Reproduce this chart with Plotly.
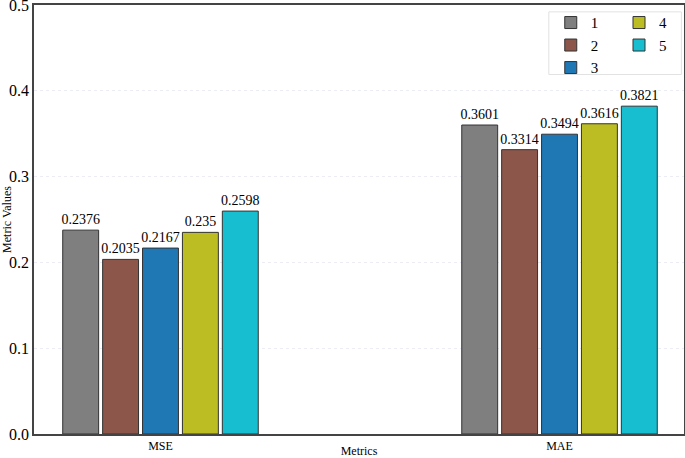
import plotly.graph_objects as go

categories = ["MSE", "MAE"]
series_names = ["1", "2", "3", "4", "5"]
values = {
    "1": [0.2376, 0.3601],
    "2": [0.2035, 0.3314],
    "3": [0.2167, 0.3494],
    "4": [0.235, 0.3616],
    "5": [0.2598, 0.3821],
}
labels = {
    "1": ["0.2376", "0.3601"],
    "2": ["0.2035", "0.3314"],
    "3": ["0.2167", "0.3494"],
    "4": ["0.235", "0.3616"],
    "5": ["0.2598", "0.3821"],
}
colors = ["#7f7f7f", "#8c564b", "#1f77b4", "#bcbd22", "#17becf"]
legend_of = ["legend", "legend", "legend", "legend2", "legend2"]
y_ticks = [0.0, 0.1, 0.2, 0.3, 0.4, 0.5]

FONT = "Liberation Serif, Times New Roman, serif"

fig = go.Figure()
for name, col, lg in zip(series_names, colors, legend_of):
    fig.add_trace(go.Bar(
        x=[0, 1], y=values[name], name=name,
        marker=dict(color=col, line=dict(color="#333333", width=1)),
        text=labels[name], textposition="outside", constraintext="none",
        textfont=dict(size=14, color="black", family=FONT),
        cliponaxis=False, legend=lg,
    ))

fig.update_layout(
    width=685, height=458,
    margin=dict(l=34, r=1, t=5, b=24, autoexpand=False),
    barmode="group", bargap=0.5, bargroupgap=0.1,
    plot_bgcolor="white", paper_bgcolor="white",
    font=dict(family=FONT, size=13, color="black"),
    legend=dict(x=0.795, y=0.997, xanchor="left", yanchor="top",
                bgcolor="rgba(0,0,0,0)", font=dict(size=15), tracegroupgap=0,
                itemwidth=30),
    legend2=dict(x=0.9, y=0.997, xanchor="left", yanchor="top",
                 bgcolor="rgba(0,0,0,0)", font=dict(size=15), tracegroupgap=0,
                 itemwidth=30),
    shapes=[dict(type="rect", xref="paper", yref="paper",
                 x0=0.792, x1=0.996, y0=0.838, y1=0.984,
                 line=dict(color="#e2e2e2", width=1), fillcolor="white",
                 layer="below")],
)
fig.update_xaxes(
    range=[-0.317, 1.312], tickvals=[0, 1], ticktext=categories,
    showline=True, linecolor="#444444", linewidth=1.5, mirror=True,
    ticks="", showgrid=False, zeroline=False, automargin=False,
    tickfont=dict(size=12), title=dict(text="Metrics", font=dict(size=12), standoff=0),
)
fig.update_yaxes(
    range=[0, 0.5], tickvals=y_ticks, ticktext=[f"{v:.1f}" for v in y_ticks],
    showline=True, linecolor="#444444", linewidth=1.5, mirror=True,
    ticks="", showgrid=True, gridcolor="#ececf4", griddash="dot", zeroline=False,
    automargin=False, ticklabeloverflow="allow",
    tickfont=dict(size=16), title=dict(text="Metric Values", font=dict(size=12), standoff=2),
)
fig.write_html("out.html", config={"displayModeBar": False},
               post_script="document.body.style.margin='0';document.body.style.overflow='hidden';")
